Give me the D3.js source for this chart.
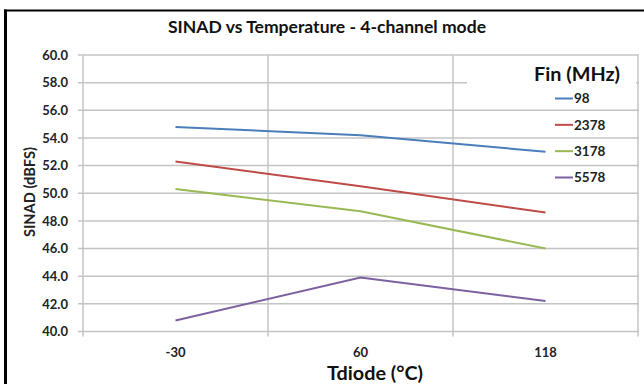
<!DOCTYPE html>
<html>
<head>
<meta charset="utf-8">
<script src="https://cdn.jsdelivr.net/npm/d3@7"></script>
<style>
  html, body { margin: 0; padding: 0; background: #fff; }
  svg { display: block; font-family: Lato, "Open Sans", sans-serif; }
</style>
</head>
<body>
<svg id="chart" width="644" height="384"></svg>
<script>
// ---- data ----
const categories = ["-30", "60", "118"];
const seriesNames = ["98", "2378", "3178", "5578"];
const values98   = [54.8, 54.2, 53.0];
const values2378 = [52.3, 50.5, 48.6];
const values3178 = [50.3, 48.7, 46.0];
const values5578 = [40.8, 43.9, 42.2];
const yTicks = [40, 42, 44, 46, 48, 50, 52, 54, 56, 58, 60];
const colors = ["#4a7ebb", "#be4b48", "#98b954", "#7d60a0"];
const titleText = "SINAD vs Temperature - 4-channel mode";
const xTitle = "Tdiode (°C)";
const yTitle = "SINAD (dBFS)";
const legendTitle = "Fin (MHz)";

const series = [values98, values2378, values3178, values5578].map((v, i) => ({
  name: seriesNames[i], values: v, color: colors[i]
}));

// ---- layout ----
const svg = d3.select("#chart");
const plot = { left: 83, right: 638, top: 55, bottom: 331.5 };
const grid = "#c4c4c4";

function fit(sel, target) {
  const node = sel.node();
  let fs = parseFloat(sel.attr("font-size"));
  for (let k = 0; k < 4; k++) {
    const w = node.getComputedTextLength();
    if (w > 0) { fs = fs * target / w; sel.attr("font-size", fs.toFixed(2)); }
  }
  return sel;
}

// frame
svg.append("line").attr("x1", 4).attr("x2", 644).attr("y1", 10.5).attr("y2", 10.5)
  .attr("stroke", "#000").attr("stroke-width", 2);
svg.append("line").attr("x1", 5.5).attr("x2", 5.5).attr("y1", 9.5).attr("y2", 384)
  .attr("stroke", "#000").attr("stroke-width", 3);

const x = d3.scaleBand().domain(categories).range([plot.left, plot.right]).paddingInner(0).paddingOuter(0);
const y = d3.scaleLinear().domain([40, 60]).range([plot.bottom, plot.top]);

// horizontal gridlines
const g = svg.append("g");
g.selectAll("line.h").data(yTicks).join("line")
  .attr("class", "h")
  .attr("x1", plot.left - 5).attr("x2", plot.right + 1)
  .attr("y1", d => y(d)).attr("y2", d => y(d))
  .attr("stroke", grid).attr("stroke-width", 1.5);

// vertical gridlines at category boundaries
const bounds = categories.map(c => x(c)).concat([x(categories[categories.length - 1]) + x.bandwidth()]);
g.selectAll("line.v").data(bounds).join("line")
  .attr("class", "v")
  .attr("x1", d => d).attr("x2", d => d)
  .attr("y1", plot.top).attr("y2", plot.bottom + 5)
  .attr("stroke", grid).attr("stroke-width", 1.5);

// y axis labels
const yAxis = d3.axisLeft(y).tickValues(yTicks).tickFormat(d3.format(".1f")).tickSize(0).tickPadding(15);
const ya = svg.append("g").attr("transform", `translate(${plot.left},0)`).call(yAxis);
ya.select(".domain").remove();
ya.selectAll("text").attr("font-family", "Lato, sans-serif").attr("font-weight", "bold")
  .attr("font-size", 13).attr("fill", "#222");

// x axis labels
const xAxis = d3.axisBottom(x).tickSize(0).tickPadding(16);
const xa = svg.append("g").attr("transform", `translate(0,${plot.bottom})`).call(xAxis);
xa.select(".domain").remove();
xa.selectAll("text").attr("font-family", "Lato, sans-serif").attr("font-weight", "bold")
  .attr("font-size", 13).attr("fill", "#222");

// legend title background box (covers gridlines)
svg.append("rect").attr("x", 467).attr("y", 60).attr("width", 169).attr("height", 35).attr("fill", "#fff");

// lines
const line = d3.line().x((d, i) => x(categories[i]) + x.bandwidth() / 2).y(d => y(d));
svg.append("g").selectAll("path").data(series).join("path")
  .attr("d", d => line(d.values))
  .attr("fill", "none").attr("stroke", d => d.color).attr("stroke-width", 2);

// title
fit(svg.append("text").attr("x", 327).attr("y", 33).attr("text-anchor", "middle")
  .attr("font-weight", "bold").attr("font-size", 16).attr("fill", "#111").text(titleText), 318);

// axis titles
fit(svg.append("text").attr("x", 375).attr("y", 380).attr("text-anchor", "middle")
  .attr("font-weight", "bold").attr("font-size", 17).attr("fill", "#111").text(xTitle), 96);
fit(svg.append("text").attr("transform", "translate(35,192) rotate(-90)").attr("text-anchor", "middle")
  .attr("font-weight", "bold").attr("font-size", 13).attr("fill", "#222").text(yTitle), 90);

// legend
fit(svg.append("text").attr("x", 577).attr("y", 81).attr("text-anchor", "middle")
  .attr("font-weight", "bold").attr("font-size", 18).attr("fill", "#111").text(legendTitle), 86);
const legendY = d3.scalePoint().domain(seriesNames).range([98.5, 177.5]);
const lg = svg.append("g").selectAll("g").data(series).join("g")
  .attr("transform", d => `translate(555,${legendY(d.name)})`);
lg.append("line").attr("x1", 0).attr("x2", 18).attr("y1", 0).attr("y2", 0)
  .attr("stroke", d => d.color).attr("stroke-width", 2);
lg.append("text").attr("x", 19).attr("y", 0).attr("dy", "0.36em")
  .attr("font-weight", "bold").attr("font-size", 13.5).attr("fill", "#222").text(d => d.name);
</script>
</body>
</html>
